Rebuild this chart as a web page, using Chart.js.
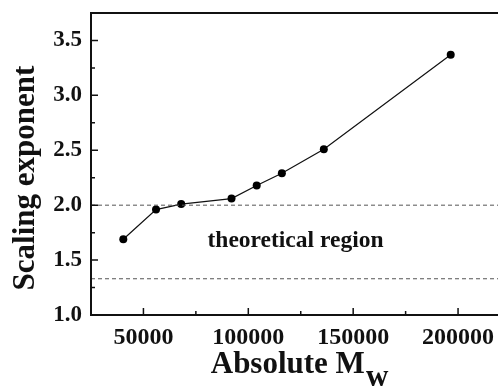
<!DOCTYPE html>
<html>
<head>
<meta charset="utf-8">
<script src="https://cdn.jsdelivr.net/npm/chart.js@4/dist/chart.umd.min.js"></script>
<style>
  html, body { margin: 0; padding: 0; background: #fff; overflow: hidden; }
  #wrap { width: 504px; height: 389px; }
</style>
</head>
<body>
<div id="wrap"><canvas id="chart" width="504" height="389"></canvas></div>
<script>
// data
const mw = [40400, 56000, 68000, 92000, 104000, 116000, 136000, 196500];
const exponent = [1.69, 1.96, 2.01, 2.06, 2.18, 2.29, 2.51, 3.37];

const xTicks = [50000, 100000, 150000, 200000];
const xMinor = [75000, 125000, 175000];
const yTicks = [1.0, 1.5, 2.0, 2.5, 3.0, 3.5];
const yMinor = [1.25, 1.75, 2.25, 2.75, 3.25];
const dashLevels = [2.0, 1.33];

const xMin = 25000, xMax = 220000;
const yMin = 1.0, yMax = 3.75;

const regionText = 'theoretical region';
const regionAt = { x: 122500, y: 1.62 };

const serif = '"Liberation Serif", "Times New Roman", serif';

const dashSets = dashLevels.map(v => ({
  data: [{ x: xMin, y: v }, { x: xMax, y: v }],
  borderColor: '#555',
  borderWidth: 1,
  borderDash: [4, 3],
  pointRadius: 0,
  fill: false
}));

// frame, inward ticks, region label and axis titles (x title has a subscript)
const frame = {
  id: 'frame',
  afterDraw(chart) {
    const ctx = chart.ctx;
    const a = chart.chartArea;
    const xs = chart.scales.x, ys = chart.scales.y;
    ctx.save();
    ctx.strokeStyle = '#111';
    ctx.lineWidth = 2;
    ctx.strokeRect(a.left, a.top, a.right - a.left, a.bottom - a.top);

    ctx.lineWidth = 1.5;
    ctx.beginPath();
    yTicks.forEach(v => { const y = ys.getPixelForValue(v); ctx.moveTo(a.left, y); ctx.lineTo(a.left + 7, y); });
    yMinor.forEach(v => { const y = ys.getPixelForValue(v); ctx.moveTo(a.left, y); ctx.lineTo(a.left + 4, y); });
    xTicks.forEach(v => { const x = xs.getPixelForValue(v); ctx.moveTo(x, a.bottom); ctx.lineTo(x, a.bottom - 7); });
    xMinor.forEach(v => { const x = xs.getPixelForValue(v); ctx.moveTo(x, a.bottom); ctx.lineTo(x, a.bottom - 4); });
    ctx.stroke();

    ctx.fillStyle = '#111';
    ctx.font = 'bold 23.5px ' + serif;
    ctx.textAlign = 'center';
    ctx.textBaseline = 'alphabetic';
    ctx.fillText(regionText, xs.getPixelForValue(regionAt.x), ys.getPixelForValue(regionAt.y));

    ctx.font = 'bold 31px ' + serif;
    const main = 'Absolute M', sub = 'w';
    const w1 = ctx.measureText(main).width, w2 = ctx.measureText(sub).width;
    const cx = 299, base = 373;
    ctx.textAlign = 'left';
    ctx.fillText(main, cx - (w1 + w2) / 2, base);
    ctx.fillText(sub, cx - (w1 + w2) / 2 + w1 + 1, base + 13);

    ctx.translate(26, 178);
    ctx.rotate(-Math.PI / 2);
    ctx.textAlign = 'center';
    ctx.textBaseline = 'middle';
    ctx.fillText('Scaling exponent', 0, 0);
    ctx.restore();
  }
};

const config = {
  type: 'line',
  data: {
    datasets: [
      ...dashSets,
      {
        data: mw.map((m, i) => ({ x: m, y: exponent[i] })),
        borderColor: '#111',
        borderWidth: 1.2,
        backgroundColor: '#000',
        pointRadius: 4,
        pointBorderWidth: 0,
        fill: false,
        tension: 0
      }
    ]
  },
  options: {
    responsive: false,
    animation: false,
    layout: { padding: { top: 13, left: 0, right: 0, bottom: 0 } },
    plugins: { legend: { display: false }, tooltip: { enabled: false } },
    scales: {
      x: {
        type: 'linear',
        min: xMin, max: xMax,
        afterFit(s) { s.height = 74; s.paddingLeft = 0; s.paddingRight = 0; },
        afterBuildTicks(s) { s.ticks = xTicks.map(v => ({ value: v })); },
        grid: { display: false, drawTicks: false },
        border: { display: false },
        ticks: {
          padding: 8,
          color: '#111',
          maxRotation: 0,
          autoSkip: false,
          font: { family: serif, size: 24, weight: 'bold' },
          callback: v => String(v)
        }
      },
      y: {
        type: 'linear',
        min: yMin, max: yMax,
        afterFit(s) { s.width = 91; s.paddingTop = 0; s.paddingBottom = 0; },
        afterBuildTicks(s) { s.ticks = yTicks.map(v => ({ value: v })); },
        grid: { display: false, drawTicks: false },
        border: { display: false },
        ticks: {
          padding: 9,
          color: '#111',
          autoSkip: false,
          font: { family: serif, size: 23, weight: 'bold' },
          callback: v => v.toFixed(1)
        }
      }
    }
  },
  plugins: [frame]
};

new Chart('chart', config);
</script>
</body>
</html>
